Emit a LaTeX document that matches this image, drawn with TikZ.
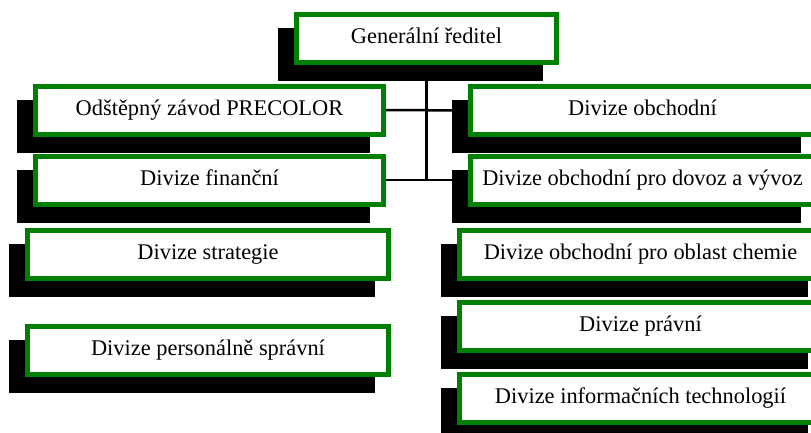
\documentclass[tikz,border=0pt]{standalone}
\usepackage{fontspec}
\setmainfont{Liberation Serif}
\definecolor{boxgreen}{RGB}{0,128,0}
\pgfdeclarelayer{background}
\pgfdeclarelayer{paper}
\pgfsetlayers{paper,background,main}
\tikzset{
  orgbox/.style={draw=boxgreen, line width=5pt, fill=white, inner sep=0pt,
    minimum height=48pt, text height=15pt, text depth=5pt,
    font=\fontsize{22.4}{27}\selectfont},
  shadowbox/.style={fill=black, draw=none, inner sep=0pt, minimum height=53pt},
  conn/.style={line width=2.5pt, black}
}
\newcommand\orgunit[5]{%
  \node[shadowbox, minimum width=#4pt] (#1s) at (#2-16,#3+16) {};
  \node[orgbox, minimum width=#4pt-5pt] (#1) at (#2,#3) {#5};
}
\begin{document}
\begin{tikzpicture}[x=1pt,y=-1pt]
\useasboundingbox (0,0) rectangle (811,432);
\clip (0,0) rectangle (811,432);
\begin{pgfonlayer}{paper}
\fill[white] (0,0) rectangle (811,432);
\end{pgfonlayer}
\orgunit{gen}{426.5}{38}{265}{Generální ředitel}
\orgunit{odst}{209.5}{110}{353}{Odštěpný závod PRECOLOR}
\orgunit{fin}{209.5}{180}{353}{Divize finanční}
\orgunit{strat}{208}{254.5}{366}{Divize strategie}
\orgunit{pers}{208}{350.5}{366}{Divize personálně správní}
\orgunit{obch}{642.5}{110.5}{349}{Divize obchodní}
\orgunit{dovoz}{642.5}{180}{349}{Divize obchodní pro dovoz a vývoz}
\orgunit{chem}{640.5}{254.5}{367}{Divize obchodní pro oblast chemie}
\orgunit{prav}{640.5}{326.5}{367}{Divize právní}
\orgunit{it}{640.5}{398.5}{367}{Divize informačních technologií}
\begin{pgfonlayer}{background}
\draw[conn] (gen.south) -- (gen.south |- fin.east);
\draw[conn] (odst.east) -- (obch.west);
\draw[conn] (fin.east) -- (dovoz.west);
\end{pgfonlayer}
\end{tikzpicture}
\end{document}
